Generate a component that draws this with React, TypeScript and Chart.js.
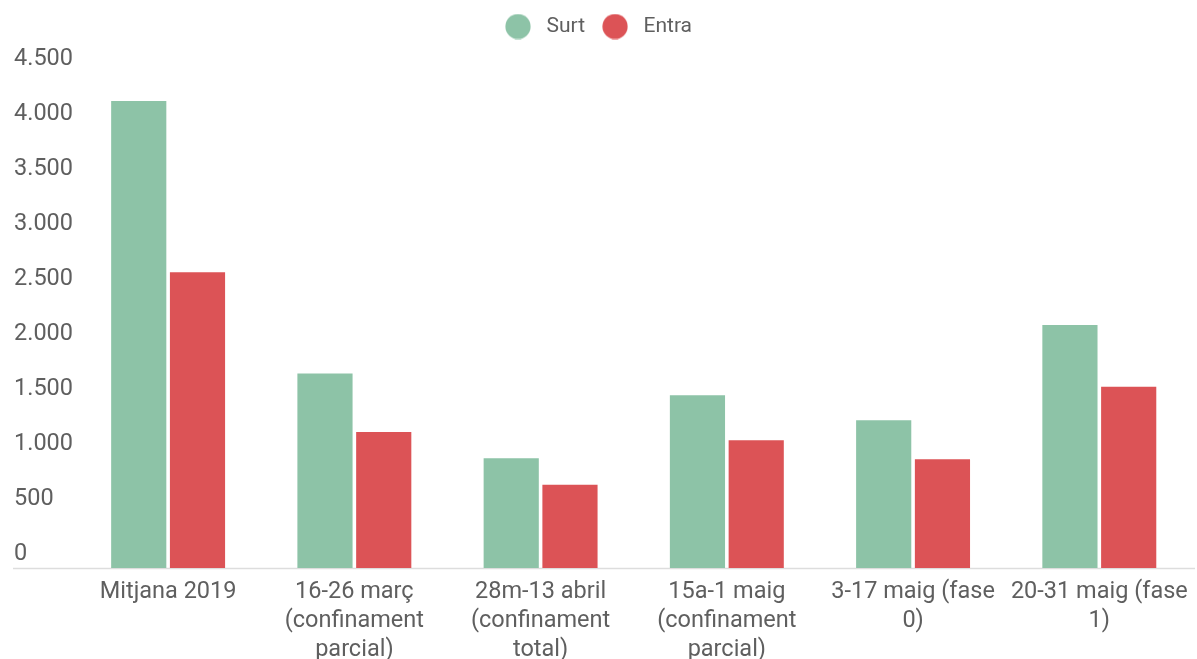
import React, { useEffect, useRef } from "react";
import { Chart, registerables } from "chart.js";

Chart.register(...registerables);

const categories: (string | string[])[] = [
  "Mitjana 2019",
  ["16-26 març", "(confinament", "parcial)"],
  ["28m-13 abril", "(confinament", "total)"],
  ["15a-1 maig", "(confinament", "parcial)"],
  ["3-17 maig (fase", "0)"],
  ["20-31 maig (fase", "1)"],
];
const surt = [4245, 1769, 999, 1572, 1343, 2210];
const entra = [2690, 1237, 757, 1162, 990, 1648];
const yTicks = [0, 500, 1000, 1500, 2000, 2500, 3000, 3500, 4000, 4500];

const GREEN = "#8dc3a7";
const RED = "#dc5356";
const TEXT = "#5f5f5f";
const FONT = "Roboto, 'Noto Sans', sans-serif";

function circleCanvas(color: string) {
  const c = document.createElement("canvas");
  c.width = 26;
  c.height = 26;
  const ctx = c.getContext("2d")!;
  ctx.fillStyle = color;
  ctx.beginPath();
  ctx.arc(13, 13, 12.6, 0, Math.PI * 2);
  ctx.fill();
  return c;
}

const layoutPlugin = {
  id: "layoutTweaks",
  afterInit(chart: any) {
    const legend = chart.legend;
    if (legend && !legend._patched) {
      const orig = legend.fit;
      legend.fit = function () {
        orig.call(this);
        this.height += 26;
      };
      legend._patched = true;
    }
  },
  afterLayout(chart: any) {
    if (chart.legend) chart.legend.left -= 16;
  },
  beforeDatasetsDraw(chart: any) {
    const { ctx, chartArea } = chart;
    ctx.save();
    ctx.strokeStyle = "#dddddd";
    ctx.lineWidth = 1.5;
    ctx.beginPath();
    ctx.moveTo(13, chartArea.bottom + 0.5);
    ctx.lineTo(1195, chartArea.bottom + 0.5);
    ctx.stroke();
    ctx.restore();
  },
};

export default function App() {
  const ref = useRef<HTMLCanvasElement>(null);
  useEffect(() => {
    const gImg = circleCanvas(GREEN);
    const rImg = circleCanvas(RED);
    const chart = new Chart(ref.current!, {
      type: "bar",
      data: {
        labels: categories,
        datasets: [
          { label: "Surt", data: surt, backgroundColor: GREEN, pointStyle: gImg as any },
          { label: "Entra", data: entra, backgroundColor: RED, pointStyle: rImg as any },
        ],
      },
      plugins: [layoutPlugin],
      options: {
        animation: false,
        responsive: false,
        maintainAspectRatio: false,
        layout: { padding: { left: 14, right: 3, top: 4, bottom: -14.5 } },
        datasets: {
          bar: { categoryPercentage: 0.631, barPercentage: 0.939, borderWidth: 0 },
        },
        plugins: {
          tooltip: { enabled: false },
          legend: {
            position: "top",
            align: "center",
            labels: {
              usePointStyle: true,
              pointStyleWidth: 36,
              boxHeight: 21,
              color: TEXT,
              font: { family: FONT, size: 21 },
              padding: 12,
            },
          },
        },
        scales: {
          x: {
            grid: { display: false, drawTicks: false },
            border: { display: false },
            ticks: {
              color: TEXT,
              font: { family: FONT, size: 23.5, lineHeight: 1.24 },
              padding: 9,
              maxRotation: 0,
              autoSkip: false,
            },
          },
          y: {
            min: 0,
            max: 4500,
            afterFit(scale: any) {
              scale.width = 61;
            },
            afterBuildTicks(scale: any) {
              scale.ticks = yTicks.map((v) => ({ value: v }));
            },
            grid: { display: false, drawTicks: false },
            border: { display: false },
            ticks: {
              color: TEXT,
              font: { family: FONT, size: 23.5 },
              crossAlign: "far",
              labelOffset: -14,
              padding: 0,
              callback: (v: any) => Number(v).toLocaleString("de-DE"),
            },
          },
        },
      },
    });
    return () => chart.destroy();
  }, []);
  return (
    <div style={{ position: "fixed", left: 0, top: 0, width: 1197, height: 659, background: "#fff" }}>
      <canvas ref={ref} width={1197} height={659} style={{ width: 1197, height: 659 }} />
    </div>
  );
}
